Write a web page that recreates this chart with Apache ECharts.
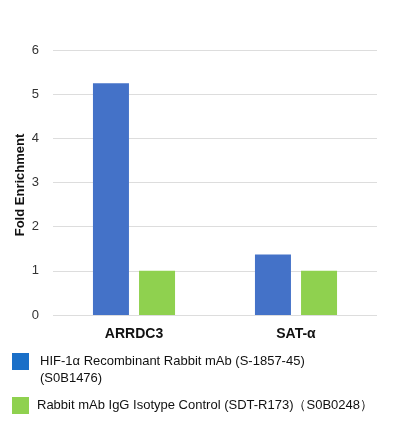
<!DOCTYPE html><html><head><meta charset="utf-8"><script src="https://cdn.jsdelivr.net/npm/echarts@6/dist/echarts.min.js"></script></head><body style="margin:0"><div id="c" style="width:416px;height:438px"></div><script>
const categories=['ARRDC3','SAT-α'];
const hifValues=[5.25,1.37];
const iggValues=[1,1];
const yTitle='Fold Enrichment';
const seriesNames=['HIF-1α Recombinant Rabbit mAb (S-1857-45)\n(S0B1476)','Rabbit mAb IgG Isotype Control (SDT-R173)（S0B0248）'];
const colors=['#4472c8','#8fd14f'];
const ch=echarts.init(document.getElementById('c'));
const f='Arial, Liberation Sans, sans-serif';
ch.setOption({animation:false,
grid:{left:53,right:39,top:50,bottom:123},
xAxis:{type:'category',data:categories,axisLine:{show:false},axisTick:{show:false},axisLabel:{fontFamily:f,fontWeight:'bold',fontSize:14,color:'#111',margin:12}},
yAxis:{type:'value',min:0,max:6,interval:1,axisLabel:{fontFamily:f,fontSize:13,color:'#333',margin:14},splitLine:{lineStyle:{color:'#ddd'}}},
series:[{type:'bar',name:seriesNames[0],data:hifValues,barWidth:36,barGap:'28%',itemStyle:{color:colors[0]}},
{type:'bar',name:seriesNames[1],data:iggValues,barWidth:36,itemStyle:{color:colors[1]}}],
graphic:[{type:'text',x:20,y:185,rotation:Math.PI/2,style:{text:yTitle,font:'bold 13px '+f,fill:'#111',align:'center',verticalAlign:'middle'}},
{type:'rect',left:12,top:353,shape:{width:17,height:17},style:{fill:'#1a6fc8'}},
{type:'text',left:40,top:353,style:{text:seriesNames[0],font:'13px '+f,fill:'#111',lineHeight:17}},
{type:'rect',left:12,top:397,shape:{width:17,height:17},style:{fill:colors[1]}},
{type:'text',left:37,top:399,style:{text:seriesNames[1],font:'13px '+f,fill:'#111'}}]
});
</script></body></html>
